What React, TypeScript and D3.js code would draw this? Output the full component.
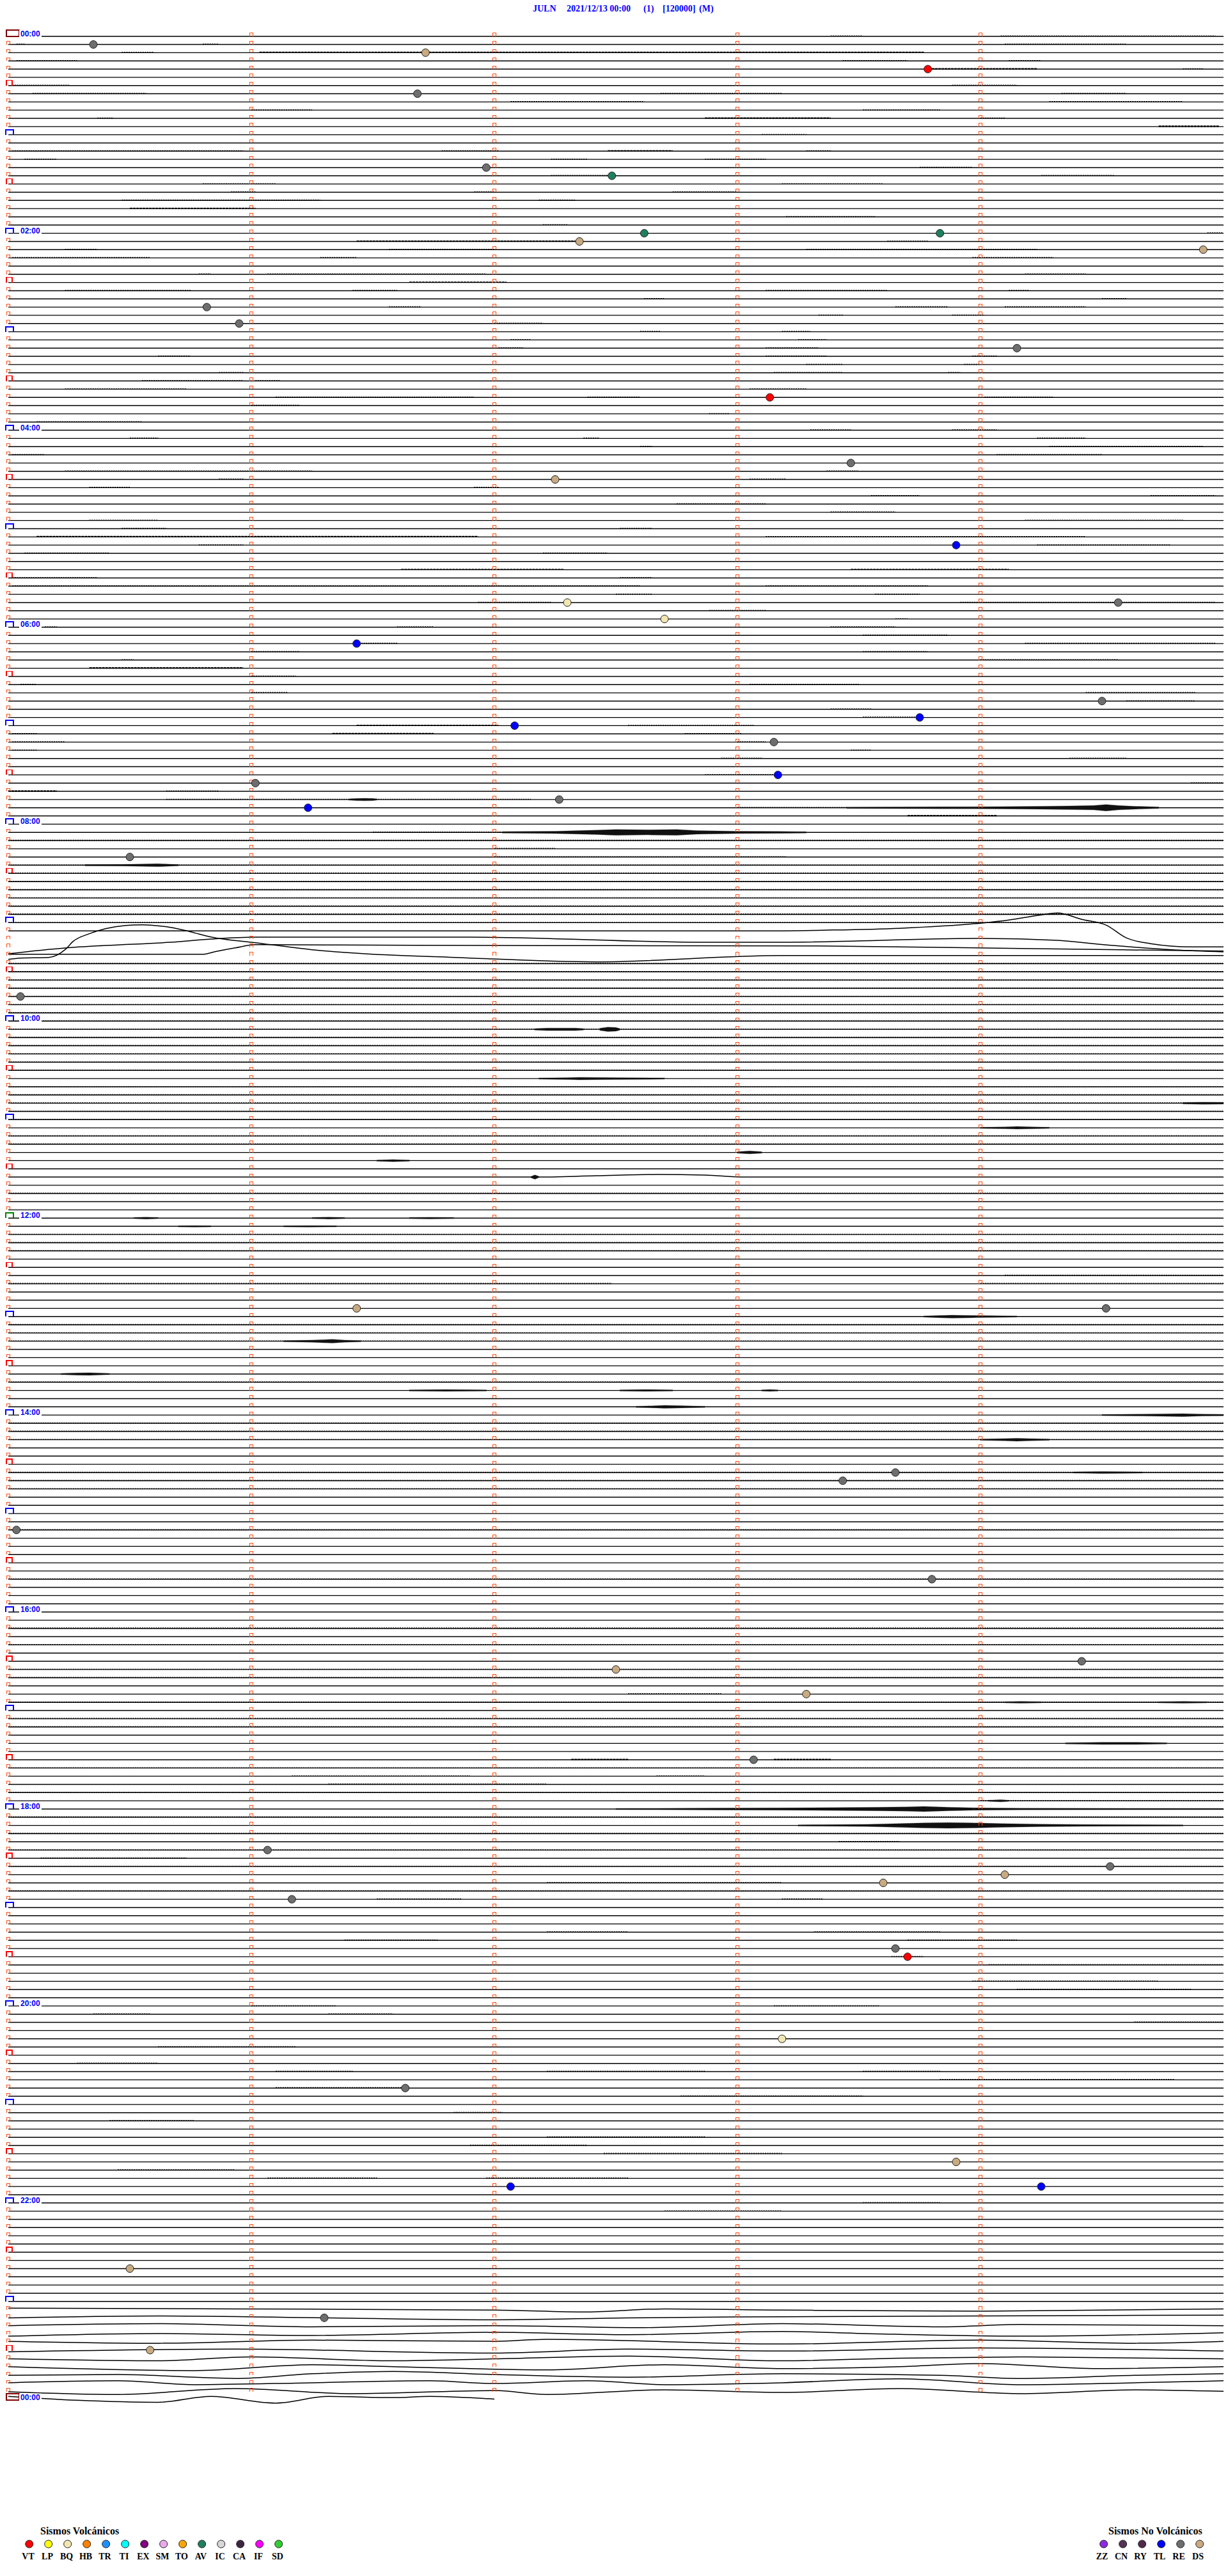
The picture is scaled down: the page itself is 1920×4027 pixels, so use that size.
import * as d3 from "d3";
import React from "react";

// helicorder JULN 2021/12/13 — 5 minutes per trace, 289 traces
const titleParts = ["JULN", "2021/12/13 00:00", "(1)", "[120000]", "(M)"];
const hourLabels = ["00:00", "02:00", "04:00", "06:00", "08:00", "10:00", "12:00", "14:00", "16:00", "18:00", "20:00", "22:00", "00:00"];
const volcanicTypes = ["VT", "LP", "BQ", "HB", "TR", "TI", "EX", "SM", "TO", "AV", "IC", "CA", "IF", "SD"];
const nonVolcanicTypes = ["ZZ", "CN", "RY", "TL", "RE", "DS"];

// picked events: time of day, type
const events = [
  ["00:05:21", "RE"], ["00:11:43", "DS"], ["00:23:47", "VT"], ["00:36:41", "RE"], ["01:21:58", "RE"],
  ["01:27:29", "AV"], ["02:02:37", "AV"], ["02:03:50", "AV"], ["02:07:21", "DS"], ["02:14:55", "DS"],
  ["02:45:49", "RE"], ["02:55:57", "RE"], ["03:14:09", "RE"], ["03:43:08", "VT"], ["04:23:28", "RE"],
  ["04:32:15", "DS"], ["05:13:54", "TL"], ["05:47:18", "BQ"], ["05:49:34", "RE"], ["05:57:42", "BQ"],
  ["06:11:26", "TL"], ["06:49:30", "RE"], ["06:58:45", "TL"], ["07:02:05", "TL"], ["07:13:09", "RE"],
  ["07:33:10", "TL"], ["07:36:01", "RE"], ["07:47:16", "RE"], ["07:51:14", "TL"], ["08:20:30", "RE"],
  ["09:45:03", "RE"], ["12:56:26", "DS"], ["12:59:31", "RE"], ["14:38:39", "RE"], ["14:43:26", "RE"],
  ["15:10:02", "RE"], ["15:43:48", "RE"], ["16:34:25", "RE"], ["16:37:30", "DS"], ["16:53:17", "DS"],
  ["17:33:04", "RE"], ["18:26:04", "RE"], ["18:39:32", "RE"], ["18:44:06", "DS"], ["18:48:36", "DS"],
  ["18:56:10", "RE"], ["19:28:39", "RE"], ["19:33:42", "VT"], ["20:23:11", "BQ"], ["20:51:38", "RE"],
  ["21:38:54", "DS"], ["21:52:04", "TL"], ["21:54:15", "TL"], ["22:40:30", "DS"], ["23:11:18", "RE"],
  ["23:30:35", "DS"],
];

// noisy stretches: [trace, t0 (s), t1 (s), half amplitude]
const noise = [
  [0, 203, 211, .5], [0, 245, 298, .5], [1, 2, 4, .5], [1, 48, 52, .5], [1, 246, 276, .5],
  [2, 28, 36, .5], [2, 62, 226, 1], [3, 2, 17, .5], [3, 206, 222, .5], [3, 247, 255, .5],
  [4, 228, 254, 1], [4, 290, 295, .5], [6, 1, 15, .5], [6, 233, 249, .5], [7, 6, 34, .5],
  [7, 161, 191, .5], [7, 260, 276, .5], [8, 124, 157, .5], [8, 257, 290, .5], [9, 60, 75, .5],
  [9, 211, 230, .5], [10, 22, 26, .5], [10, 172, 203, 1], [10, 240, 246, .5], [11, 284, 299, 1],
  [12, 186, 197, .5], [14, 1, 58, .5], [14, 107, 121, .5], [14, 148, 164, 1], [14, 197, 203, .5],
  [15, 4, 12, .5], [15, 134, 143, .5], [15, 172, 187, .5], [16, 225, 238, .5], [17, 134, 148, .5],
  [17, 255, 273, .5], [18, 48, 66, .5], [18, 191, 216, .5], [19, 55, 61, .5], [19, 115, 120, .5],
  [19, 164, 180, .5], [20, 28, 77, .5], [20, 131, 140, .5], [21, 30, 61, .8], [22, 192, 214, .5],
  [23, 132, 138, .5], [24, 296, 300, .5], [25, 86, 140, .8], [25, 217, 227, .5], [26, 14, 22, .5],
  [26, 94, 120, .5], [26, 197, 254, .5], [27, 1, 35, .5], [27, 77, 86, .5], [27, 238, 258, .5],
  [29, 47, 50, .5], [29, 64, 118, .5], [29, 251, 266, .5], [30, 99, 123, .8], [31, 14, 45, .5],
  [31, 85, 96, .5], [31, 187, 217, .5], [31, 247, 252, .5], [32, 157, 162, .5], [32, 270, 276, .5],
  [33, 94, 102, .5], [33, 219, 232, .5], [33, 246, 266, .5], [34, 200, 206, .5], [34, 233, 241, .5],
  [35, 120, 132, .5], [36, 156, 161, .5], [36, 191, 198, .5], [37, 124, 129, .5], [37, 195, 202, .5],
  [38, 121, 127, .5], [38, 187, 200, .5], [39, 37, 45, .5], [39, 187, 202, .5], [39, 238, 244, .5],
  [40, 197, 206, .5], [40, 236, 240, .5], [41, 52, 58, .5], [41, 189, 206, .5], [41, 232, 235, .5],
  [42, 33, 58, .5], [42, 61, 67, .5], [43, 14, 44, .5], [43, 183, 197, .5], [44, 66, 115, .5],
  [44, 143, 156, .5], [44, 241, 258, .5], [45, 60, 72, .5], [46, 173, 178, .5], [47, 7, 33, .5],
  [48, 198, 208, .5], [48, 233, 244, .5], [49, 30, 37, .5], [49, 142, 146, .5], [49, 254, 266, .5],
  [50, 156, 159, .5], [50, 257, 295, .5], [51, 1, 9, .5], [51, 244, 270, .5], [53, 14, 75, .5],
  [53, 202, 210, .5], [54, 52, 58, .5], [54, 183, 192, .5], [55, 20, 30, .5], [55, 115, 121, .5],
  [56, 213, 225, .5], [56, 282, 298, .5], [57, 165, 187, .5], [58, 203, 219, .5], [59, 20, 37, .5],
  [59, 251, 290, .5], [60, 28, 39, .5], [60, 151, 159, .5], [61, 7, 116, .8], [61, 187, 266, .5],
  [62, 47, 58, .5], [62, 254, 287, .5], [63, 4, 25, .5], [63, 132, 148, .5], [65, 97, 137, .8],
  [65, 208, 247, .8], [66, 1, 22, .5], [66, 151, 159, .5], [67, 1, 156, .5], [67, 187, 227, .5],
  [68, 150, 159, .5], [68, 214, 225, .5], [69, 116, 134, .5], [69, 235, 298, .5], [70, 173, 187, .5],
  [71, 219, 222, .5], [72, 9, 12, .5], [72, 96, 105, .5], [72, 203, 219, .5], [73, 211, 232, .5],
  [74, 86, 96, .5], [74, 251, 298, .5], [75, 60, 72, .5], [75, 211, 227, .5], [76, 28, 31, .5],
  [76, 240, 274, .5], [77, 20, 58, 1], [78, 60, 71, .5], [79, 3, 7, .5], [79, 183, 210, .5],
  [80, 60, 69, .5], [80, 266, 293, .5], [81, 276, 293, .5], [82, 203, 213, .5], [83, 211, 224, .5],
  [84, 86, 121, .8], [84, 153, 184, .5], [85, 1, 7, .5], [85, 80, 105, 1], [85, 167, 181, .5],
  [86, 1, 14, .5], [86, 180, 187, .5], [87, 1, 7, .5], [87, 208, 213, .5], [88, 176, 186, .5],
  [88, 262, 276, .5], [90, 172, 189, .5], [91, 292, 300, .5], [92, 0, 12, 1], [92, 39, 52, .5],
  [93, 39, 129, .5], [94, 180, 207, .5], [95, 222, 244, 1], [97, 90, 122, .4], [98, 0, 300, .5],
  [99, 120, 135, .5], [100, 120, 192, .6], [101, 0, 300, .3], [102, 0, 300, .5], [103, 0, 300, .4],
  [104, 0, 300, .5], [105, 0, 300, .4], [106, 0, 300, .4], [107, 0, 300, .7], [108, 0, 300, .4],
  [113, 0, 300, .4], [114, 0, 300, .5], [115, 0, 300, .5], [116, 0, 300, .35], [117, 0, 300, .35],
  [118, 0, 300, .4], [119, 0, 300, .3], [120, 0, 300, .2], [121, 0, 300, .3], [122, 0, 300, .35],
  [123, 0, 300, .5], [124, 0, 300, .2], [125, 0, 300, .2], [126, 0, 300, .2], [128, 0, 300, .2],
  [129, 0, 300, .4], [130, 0, 300, .5], [131, 0, 300, .2], [132, 0, 300, .2], [134, 0, 300, .5],
  [135, 0, 300, .35], [141, 0, 300, .35], [146, 0, 300, .4], [147, 0, 300, .6], [148, 0, 300, .35],
  [151, 246, 300, .4], [152, 0, 149, .6], [152, 240, 300, .5], [157, 0, 300, .35], [158, 0, 300, .35],
  [159, 0, 300, .5], [164, 0, 300, .5], [169, 0, 300, .35], [170, 0, 300, .5], [171, 0, 300, .5],
  [175, 0, 300, .5], [176, 0, 300, .5], [177, 0, 300, .35], [182, 0, 300, .5], [188, 0, 300, .5],
  [194, 0, 300, .7], [196, 0, 300, .35], [199, 0, 300, .4], [200, 0, 300, .35], [202, 153, 176, .5],
  [203, 0, 300, .35], [205, 0, 300, .5], [206, 0, 300, .35], [210, 139, 153, .8], [210, 189, 203, .8],
  [211, 0, 300, .35], [212, 70, 114, .5], [212, 160, 172, .5], [213, 79, 133, .5], [214, 0, 300, .35],
  [215, 240, 300, .5], [217, 0, 300, .6], [219, 0, 300, .35], [220, 205, 220, .5], [221, 0, 300, .35],
  [222, 8, 44, .5], [223, 0, 300, .35], [225, 133, 191, .5], [226, 0, 300, .35], [227, 91, 112, .5],
  [227, 191, 201, .5], [231, 133, 153, .5], [231, 199, 230, .5], [232, 83, 106, .5], [232, 222, 249, .5],
  [234, 218, 226, .5], [235, 242, 300, .5], [237, 238, 284, .5], [238, 249, 292, .5], [240, 60, 81, .5],
  [240, 189, 215, .5], [241, 21, 35, .5], [241, 79, 95, .5], [242, 278, 300, .5], [245, 37, 71, .5],
  [247, 17, 37, .5], [248, 66, 85, .5], [248, 133, 172, .6], [248, 211, 230, .5], [249, 230, 288, .6],
  [250, 66, 99, .7], [251, 166, 211, .5], [253, 110, 122, .5], [254, 25, 46, .5], [256, 133, 172, .6],
  [257, 114, 143, .5], [258, 147, 191, .6], [260, 27, 56, .5], [261, 64, 91, .5], [261, 118, 153, .5],
  [264, 211, 230, .5], [265, 162, 191, .5],
];

// bursts: trace and envelope [t (s), half amplitude]
const bursts = [
  { line: 93, env: [[84, .5], [86, 2], [88, 2.5], [90, 2], [91, .5]] },
  { line: 94, env: [[207, .7], [230, 1.5], [245, 2], [255, 3], [262, 4], [268, 5], [271, 8], [274, 5], [278, 3], [284, 1]] },
  { line: 97, env: [[122, 1], [135, 2], [145, 5], [150, 7], [158, 6], [165, 7], [170, 4], [180, 2], [190, 1.5], [197, .7]] },
  { line: 101, env: [[19, .7], [28, 1.2], [33, 2], [37, 3], [40, 1.5], [42, .7]] },
  { line: 121, env: [[130, 1], [133, 2.5], [140, 2.5], [142, 1]] },
  { line: 121, env: [[146, 2], [148, 5], [150, 4], [151, 1]] },
  { line: 127, env: [[131, .5], [138, 1.5], [141, 2.5], [150, 1.5], [162, .5]] },
  { line: 130, env: [[290, 1], [295, 2], [300, 1.5]] },
  { line: 133, env: [[240, .5], [246, 1.5], [249, 2.5], [253, 1.5], [257, .5]] },
  { line: 136, env: [[180, 1], [183, 3], [186, 1]] },
  { line: 137, env: [[91, .5], [95, 2], [99, .5]] },
  { line: 139, env: [[129, .5], [130, 5], [131, .5]] },
  { line: 144, env: [[31, .5], [34, 1.5], [37, .5]] },
  { line: 144, env: [[75, .5], [79, 1.5], [83, .5]] },
  { line: 144, env: [[99, .5], [104, 1.2], [110, .5]] },
  { line: 145, env: [[42, .5], [46, 1], [50, .5]] },
  { line: 145, env: [[68, .5], [74, 1], [81, .5]] },
  { line: 156, env: [[226, .5], [230, 2], [233, 3], [238, 2], [249, .5]] },
  { line: 159, env: [[68, .5], [75, 2], [80, 4], [83, 2], [87, .5]] },
  { line: 163, env: [[13, .5], [17, 2], [20, 2.5], [25, .5]] },
  { line: 165, env: [[99, .5], [108, 1.5], [118, .5]] },
  { line: 165, env: [[151, .5], [157, 1.5], [164, .5]] },
  { line: 165, env: [[186, .5], [188, 1.5], [190, .5]] },
  { line: 167, env: [[155, .5], [160, 2], [162, 3], [166, 2], [172, .5]] },
  { line: 168, env: [[270, .5], [280, 1.5], [290, 3], [295, 1.5], [300, 1]] },
  { line: 171, env: [[240, .5], [246, 2], [249, 3], [252, 2], [257, .5]] },
  { line: 175, env: [[263, .5], [270, 1.5], [280, .5]] },
  { line: 203, env: [[246, .5], [250, 1.5], [255, .5]] },
  { line: 203, env: [[284, .5], [290, 1.5], [296, .5]] },
  { line: 208, env: [[261, .5], [270, 2], [278, 2], [286, .5]] },
  { line: 215, env: [[242, .5], [245, 2], [247, .5]] },
  { line: 216, env: [[150, .5], [160, .8], [175, 1.5], [190, 2], [205, 3], [215, 4], [222, 5], [226, 6], [232, 4], [240, 2], [250, 1], [300, .5]] },
  { line: 218, env: [[195, .5], [201, 1], [212, 2], [220, 4], [226, 6], [232, 7], [238, 6], [245, 4], [255, 2.5], [265, 1.5], [278, .8], [290, .5]] },
];

// slow drift / microseism: trace and [t (s), downward displacement]
const drifts = [
  { line: 109, pts: [[0, 0], [190, 0], [201, -1], [220, -4], [240, -12], [247, -17], [255, -25], [259, -28], [265, -18], [271, -9], [276, 11], [282, 20], [292, 25], [300, 25]] },
  { line: 110, pts: [[0, 23], [14, 14], [24, 10], [40, 5], [50, 0], [61, -3], [114, -3], [172, 5], [191, 5], [240, -1], [259, 2], [269, 8], [288, 17], [300, 20]] },
  { line: 111, pts: [[0, 11], [48, 11], [51, 7], [56, 1], [61, -4], [100, -3], [200, -2], [250, 2], [300, 6]] },
  { line: 112, pts: [[0, 6], [3, 4], [10, 3], [14, -9], [16, -22], [20, -34], [24, -42], [29, -47], [33, -48], [36, -47], [40, -44], [45, -37], [50, -29], [61, -20], [75, -9], [114, 4], [145, 10], [191, 0], [300, 0]] },
  { line: 139, pts: [[0, 0], [130, 0], [145, -2], [160, -4], [172, -3], [182, 0], [300, 0]] },
  { line: 277, pts: [[0, -2.4], [56, -1.2], [120, .6], [143, 3.7], [162, -1.2], [191, .6], [240, 2.4], [300, -1.2]] },
  { line: 278, pts: [[0, 0], [37, -3], [79, 0], [120, 3], [153, 0], [191, -1.8], [240, -3], [300, -4.3]] },
  { line: 279, pts: [[0, -.6], [37, -3.7], [75, 1.2], [120, -.6], [157, 2.4], [191, -3.7], [230, 1.2], [250, -2.4], [300, -.6]] },
  { line: 280, pts: [[0, 3], [37, -1.2], [75, 1.8], [120, -3], [153, .6], [191, -4.3], [211, -1.2], [250, 3], [300, -2.4]] },
  { line: 281, pts: [[0, -1.8], [37, 1.2], [75, -3.7], [120, -1.8], [133, -4.9], [191, 2.4], [240, -3.7], [278, 1.2], [300, -1.8]] },
  { line: 282, pts: [[0, 1.8], [56, -2.4], [120, 3.7], [153, -2.4], [191, .6], [240, -4.3], [300, .6]] },
  { line: 283, pts: [[0, 0], [37, 3], [60, -3], [95, 3], [120, 0], [153, -4.3], [191, 3], [220, -1.2], [250, -3], [300, 0]] },
  { line: 284, pts: [[0, -.6], [46, 5.5], [75, -3.7], [95, -.6], [133, 4.3], [162, -3.7], [191, 2.4], [220, -.6], [240, -5.5], [269, 2.4], [300, -.6]] },
  { line: 285, pts: [[0, 0], [27, -1.2], [56, 4.9], [75, -2.4], [95, -6.1], [120, -1.2], [153, 3], [191, -2.4], [230, 0], [250, 4.9], [278, 0], [300, -2.4]] },
  { line: 286, pts: [[0, -1.2], [27, -4.3], [46, 1.8], [75, -1.2], [104, -4.3], [120, 0], [143, -4.3], [162, 1.8], [191, -1.2], [220, -7.3], [250, 1.8], [278, -1.2], [300, -4.3]] },
  { line: 287, pts: [[0, 0], [27, 4.3], [56, -4.9], [85, 3], [120, -1.8], [133, 4.3], [162, -3], [191, 1.2], [220, -4.9], [250, 3], [278, -3], [300, -.6]] },
  { line: 288, pts: [[0, -5.5], [17, .6], [37, 3.7], [50, -5.5], [66, 4.9], [79, -5.5], [95, -3.7], [104, -5.5], [120, -1.2]] },
];

const typeColor = {
  VT: "#ff0000", LP: "#ffff00", BQ: "#f2e6b0", HB: "#ff7f00", TR: "#1e90ff", TI: "#00ffff", EX: "#800080",
  SM: "#eaaaea", TO: "#ffa500", AV: "#1f7f5f", IC: "#d6d6d6", CA: "#3f2442", IF: "#ff00ff", SD: "#33cc33",
  ZZ: "#8a2be2", CN: "#553355", RY: "#4f2a4a", TL: "#0000ff", RE: "#6e6e6e", DS: "#c8aa82",
};

const LAST = 288;
const xScale = d3.scaleLinear().domain([0, 300]).range([13, 1913]);
const yRow = d3.scaleLinear().domain([0, 1]).range([56.7, 56.7 + 12.83]);
const amp = d3.scaleLinear().domain([0, 1]).range([0, 1]);
const burstAmp = d3.scaleLinear().domain([0, 1]).range([0, 0.55]);

const titleX = [833, 886, 1006, 1036, 1093];

export default function App() {
  const driftScale = new Map(
    drifts.map((d) => [d.line, d3.scaleLinear().domain(d.pts.map((p) => p[0])).range(d.pts.map((p) => amp(p[1]))).clamp(true)])
  );
  const off = (line, t) => (driftScale.has(line) ? driftScale.get(line)(t) : 0);
  const knots = (line, t0, t1) => {
    const d = drifts.find((e) => e.line === line);
    const inner = d ? d.pts.map((p) => p[0]).filter((t) => t > t0 && t < t1) : [];
    return [t0, ...inner, t1];
  };

  const traceLine = d3.line().x((d) => xScale(d[0])).y((d) => d[1]).curve(d3.curveMonotoneX);
  const flatLine = d3.line().x((d) => xScale(d[0])).y((d) => d[1]);
  const burstArea = d3.area().x((d) => xScale(d[0])).y0((d) => d[1] - d[2]).y1((d) => d[1] + d[2]);

  const rows = d3.range(0, LAST + 1);

  const flatTraces = [];
  const driftTraces = [];
  rows.forEach((i) => {
    const end = i === LAST ? 120 : 300;
    const y = yRow(i);
    const d = drifts.find((e) => e.line === i);
    if (d) {
      const path = traceLine(d.pts.filter((p) => p[0] <= end).map((p) => [p[0], y + amp(p[1])]));
      driftTraces.push(<path key={i} d={path} fill="none" stroke="#000" strokeWidth={1.5} />);
    } else {
      flatTraces.push(<path key={i} d={flatLine([[0, y], [end, y]])} fill="none" stroke="#000" strokeWidth={1.4} />);
    }
  });

  const noisePaths = noise.map(([line, t0, t1, a], k) => {
    const y = yRow(line) - 0.5;
    const pts = knots(line, t0, t1).map((t) => [t, y + off(line, t)]);
    return (
      <path key={k} d={flatLine(pts)} fill="none" stroke="#000" strokeWidth={0.8 + 1.4 * amp(a)}
        strokeDasharray={a >= 0.8 ? "4 1" : "2 1.6"} />
    );
  });

  const burstPaths = bursts.map((b, k) => {
    const y = yRow(b.line);
    const pts = b.env.map(([t, a]) => [t, y + off(b.line, t), burstAmp(a) + 0.6]);
    return <path key={k} d={burstArea(pts)} fill="#111" stroke="#000" strokeWidth={0.6} strokeDasharray="1 1" />;
  });

  const markers = [];
  rows.forEach((i) => {
    const y = yRow(i);
    if (i === 0 || i === LAST) {
      markers.push(<rect key={`m${i}`} x={10} y={y - 10} width={20} height={10} fill="none" stroke="#800000" strokeWidth={2} />);
    } else if (i % 12 === 0) {
      const c = i === 144 ? "#008000" : "#0000ff";
      markers.push(<path key={`m${i}`} d={`M9,${y}V${y - 8}H21V${y}`} fill="none" stroke={c} strokeWidth={2} />);
    } else if (i % 6 === 0) {
      markers.push(<path key={`m${i}`} d={`M10,${y}V${y - 8}H19V${y}`} fill="none" stroke="#ff0000" strokeWidth={1.4} />);
    } else {
      markers.push(<path key={`m${i}`} d={`M10.5,${y}V${y - 5}H15.5V${y}`} fill="none" stroke="#ff4a10" strokeWidth={1} />);
    }
    if (i !== LAST) {
      [60, 120, 180, 240].forEach((t) => {
        const x = xScale(t);
        markers.push(<path key={`m${i}-${t}`} d={`M${x - 2.5},${y}V${y - 5}H${x + 2.5}V${y}`} fill="none" stroke="#ff4a10" strokeWidth={1} />);
      });
    }
  });

  const labels = hourLabels.map((lab, k) => {
    const y = yRow(k * 24);
    return (
      <g key={k}>
        <rect x={30} y={y - 10} width={35} height={11.5} fill="#fff" />
        <text x={32} y={y} fontFamily="'Liberation Sans', Arial, sans-serif" fontWeight="bold" fontSize={12} fill="#0000ff">{lab}</text>
      </g>
    );
  });

  const eventDots = events.map(([time, type], k) => {
    const [h, m, s] = time.split(":").map(Number);
    const sec = h * 3600 + m * 60 + s;
    const line = Math.floor(sec / 300);
    const t = sec % 300;
    return (
      <circle key={k} cx={xScale(t)} cy={yRow(line) + off(line, t)} r={6} fill={typeColor[type]} stroke="#222" strokeWidth={1} />
    );
  });

  const legendFont = "'Liberation Serif', 'Times New Roman', serif";

  return (
    <>
      <style>{"body{margin:0;background:#fff}"}</style>
      <svg width={1920} height={4027} viewBox="0 0 1920 4027" style={{ display: "block", background: "#fff" }}>
        <g fontFamily={legendFont} fontWeight="bold" fontSize={14} fill="#0000ff">
          {titleParts.map((p, k) => (
            <text key={k} x={titleX[k]} y={18}>{p}</text>
          ))}
        </g>
        <g>{flatTraces}</g>
        <g>{driftTraces}</g>
        <g>{noisePaths}</g>
        <g>{burstPaths}</g>
        <g shapeRendering="crispEdges">{markers}</g>
        <g>{labels}</g>
        <g>{eventDots}</g>

        <g fontFamily={legendFont} fontWeight="bold" fill="#000">
          <text x={63} y={3962} fontSize={16}>Sismos Volcánicos</text>
          {volcanicTypes.map((tp, k) => (
            <g key={tp}>
              <circle cx={45.7 + 30 * k} cy={3977} r={6} fill={typeColor[tp]} stroke="#222" strokeWidth={1} />
              <text x={44 + 30 * k} y={4001} fontSize={14} textAnchor="middle">{tp}</text>
            </g>
          ))}
          <text x={1733} y={3962} fontSize={16}>Sismos No Volcánicos</text>
          {nonVolcanicTypes.map((tp, k) => (
            <g key={tp}>
              <circle cx={1725.7 + 30 * k} cy={3977} r={6} fill={typeColor[tp]} stroke="#222" strokeWidth={1} />
              <text x={1723 + 30 * k} y={4001} fontSize={14} textAnchor="middle">{tp}</text>
            </g>
          ))}
        </g>
      </svg>
    </>
  );
}
